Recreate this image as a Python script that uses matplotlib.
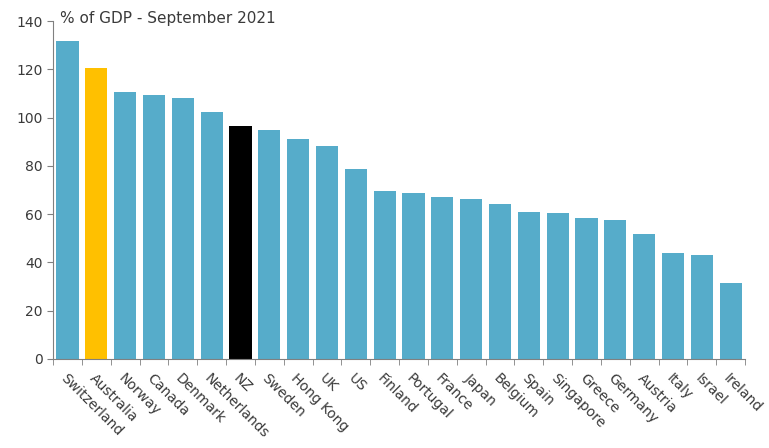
import numpy as np
import matplotlib.pyplot as plt

countries = ['Switzerland', 'Australia', 'Norway', 'Canada', 'Denmark', 'Netherlands',
             'NZ', 'Sweden', 'Hong Kong', 'UK', 'US', 'Finland', 'Portugal', 'France',
             'Japan', 'Belgium', 'Spain', 'Singapore', 'Greece', 'Germany', 'Austria',
             'Italy', 'Israel', 'Ireland']
values = [131.9, 120.4, 110.7, 109.4, 108.0, 102.3, 96.5, 94.9, 91.1, 88.4, 78.8, 69.4,
          68.9, 67.2, 66.3, 64.2, 60.9, 60.5, 58.4, 57.6, 51.8, 43.8, 43.1, 31.6]
yticks = [0, 20, 40, 60, 80, 100, 120, 140]

blue = '#56acca'
colors = [blue] * len(countries)
colors[1] = '#ffc000'   # Australia
colors[6] = '#000000'   # NZ

plt.rcParams['font.family'] = ['DejaVu Sans']
fig = plt.figure(figsize=(7.69, 4.48), dpi=100)
ax = fig.add_axes([0.069, 0.199, 0.900, 0.754])

x = np.arange(len(countries))
ax.bar(x, values, width=0.77, color=colors)

ax.set_xlim(-0.5, len(countries) - 0.5)
ax.set_ylim(0, 140)
ax.set_yticks(yticks)
ax.tick_params(axis='y', labelsize=10, colors='#3a3a3a', length=4, color='#808080')

ax.set_xticks(x)
ax.set_xticklabels(countries, rotation=-45, ha='left', va='top', rotation_mode='anchor',
                   fontsize=10, color='#3a3a3a')
ax.tick_params(axis='x', length=0, pad=9)
ax.set_xticks(np.arange(-0.5, len(countries)), minor=True)
ax.tick_params(axis='x', which='minor', length=4, color='#808080')

for s in ['top', 'right']:
    ax.spines[s].set_visible(False)
for s in ['left', 'bottom']:
    ax.spines[s].set_color('#808080')

fig.text(0.078, 0.958, '% of GDP - September 2021', fontsize=11, color='#3a3a3a',
         va='center', ha='left')

plt.savefig('out.png', dpi=100)
